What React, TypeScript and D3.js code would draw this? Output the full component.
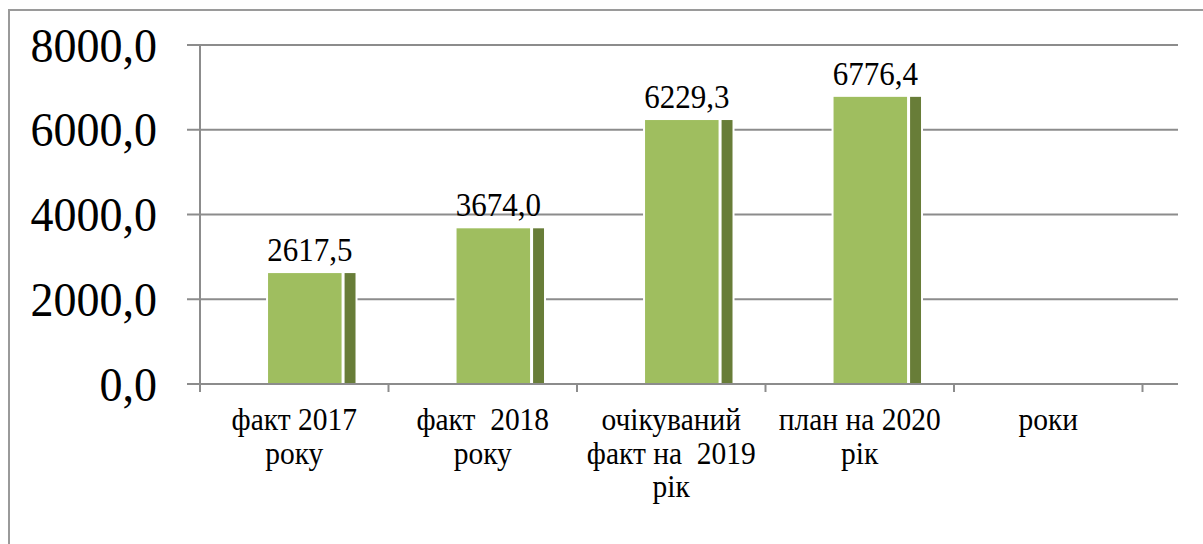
import React from "react";
import * as d3 from "d3";

// categories (lines split by "|"), values and y ticks
const categories = [
  "факт 2017|року",
  "факт  2018|року",
  "очікуваний|факт на  2019|рік",
  "план на 2020|рік",
  "роки",
];
const values: (number | null)[] = [2617.5, 3674.0, 6229.3, 6776.4, null];
const yTicks = [0, 2000, 4000, 6000, 8000];

const width = 1203;
const height = 544;
const font = '"Liberation Serif", "Times New Roman", serif';
const stretch = 1.07; // source text is slightly taller than wide

const App = () => {
  const x = d3
    .scaleBand()
    .domain(categories)
    .range([200, 1142.5])
    .padding(0);

  const y = d3.scaleLinear().domain([0, 8000]).range([384, 45]);

  const bw = x.bandwidth();
  const fmt = (v: number) => v.toFixed(1).replace(".", ",");
  const textStyle = { fontFamily: font, whiteSpace: "pre" as const };

  return (
    <svg
      width={width}
      height={height}
      style={{ position: "absolute", left: 0, top: 0, background: "#fff" }}
    >
      {/* outer frame */}
      <rect x={9} y={10} width={1210} height={560} fill="none" stroke="#9a9a9a" strokeWidth={2} />

      {/* gridlines */}
      {yTicks.map((t) => (
        <line key={t} x1={187} x2={1178} y1={y(t)} y2={y(t)} stroke="#8c8c8c" strokeWidth={2} />
      ))}

      {/* y axis */}
      <line x1={200} x2={200} y1={y(8000)} y2={392} stroke="#8c8c8c" strokeWidth={2} />

      {/* category ticks */}
      {categories.map((c) => (
        <line key={c} x1={(x(c) as number) + bw} x2={(x(c) as number) + bw} y1={384} y2={392} stroke="#8c8c8c" strokeWidth={2} />
      ))}

      {/* y labels */}
      {yTicks.map((t) => (
        <text
          key={t}
          transform={`translate(157, ${y(t)}) scale(1, ${stretch})`}
          textAnchor="end"
          dy="0.34em"
          fontSize={46}
          fill="#000"
          style={textStyle}
        >
          {fmt(t)}
        </text>
      ))}

      {/* bars: front face + darker side face */}
      {categories.map((c, i) => {
        const v = values[i];
        if (v == null) return null;
        const s = x(c) as number;
        const top = y(v);
        const fx0 = s + bw * 0.361;
        const fx1 = s + bw * 0.751;
        const sx0 = s + bw * 0.767;
        const sx1 = s + bw * 0.825;
        return (
          <g key={c}>
            <rect x={fx0 - 2} y={top - 2} width={sx1 - fx0 + 4} height={y(0) - top + 1} fill="#fff" />
            <rect x={fx0} y={top} width={fx1 - fx0} height={y(0) - top - 1} fill="#9fbe5f" />
            <rect x={sx0} y={top} width={sx1 - sx0} height={y(0) - top - 1} fill="#687d38" />
            <text
              transform={`translate(${(fx0 + sx1) / 2 - 2}, ${top - 12}) scale(1, ${stretch})`}
              textAnchor="middle"
              fontSize={31}
              fill="#000"
              style={textStyle}
            >
              {fmt(v)}
            </text>
          </g>
        );
      })}

      {/* x labels */}
      {categories.map((c) => {
        const cx = (x(c) as number) + bw / 2;
        return c.split("|").map((line, j) => (
          <text
            key={c + j}
            transform={`translate(${cx}, ${430 + j * 33.5}) scale(1, ${stretch})`}
            textAnchor="middle"
            fontSize={29.5}
            fill="#000"
            style={textStyle}
          >
            {line}
          </text>
        ));
      })}
    </svg>
  );
};

export default App;
